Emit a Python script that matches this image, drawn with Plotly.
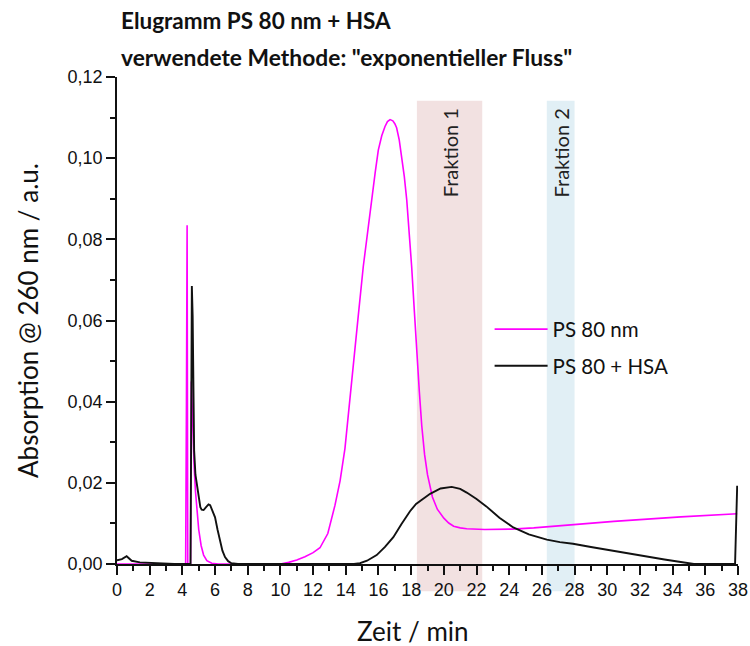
import plotly.graph_objects as go

# Elution time (min) and UV absorbance at 260 nm for the two runs
ps80_time = [0.0, 4.20, 4.25, 4.29, 4.33, 4.50, 4.55, 4.60, 4.66, 4.72, 4.80, 4.90,
             5.00, 5.15, 5.30, 5.50, 5.80, 6.20, 10.0, 10.5, 11.0, 11.5, 12.0, 12.42,
             12.9, 13.34, 13.65, 13.95, 14.20, 14.46, 14.76, 15.07, 15.33, 15.58,
             15.80, 15.99, 16.20, 16.40, 16.55, 16.71, 16.88, 17.00, 17.11, 17.27,
             17.42, 17.58, 17.73, 17.88, 18.03, 18.20, 18.34, 18.50, 18.65, 18.82,
             19.00, 19.15, 19.30, 19.60, 20.00, 20.30, 20.60, 21.00, 21.40, 22.50,
             24.20, 25.50, 27.30, 30.40, 34.50, 37.95]
ps80_abs = [0.0, 0.0, 0.040, 0.0835, 0.0, 0.0, 0.045, 0.038, 0.030, 0.024, 0.018,
            0.0125, 0.0085, 0.0045, 0.0022, 0.0008, 0.0002, 0.0, 0.0, 0.0004, 0.0010,
            0.0018, 0.0028, 0.0040, 0.0075, 0.0145, 0.0205, 0.0285, 0.0380, 0.0490,
            0.0610, 0.0733, 0.0820, 0.0897, 0.0965, 0.1020, 0.1055, 0.1078, 0.1090,
            0.1095, 0.1092, 0.1085, 0.1075, 0.1045, 0.1004, 0.0955, 0.0897, 0.0820,
            0.0733, 0.0620, 0.0520, 0.0425, 0.0340, 0.0270, 0.0220, 0.0188, 0.0165,
            0.0135, 0.0113, 0.0101, 0.0093, 0.0089, 0.0087, 0.0085, 0.0086, 0.0089,
            0.0095, 0.0105, 0.0116, 0.0124]

hsa_time = [0.0, 0.30, 0.59, 0.75, 0.90, 1.40, 2.50, 3.50, 4.50, 4.58, 4.63, 4.67,
            4.72, 4.80, 4.87, 5.00, 5.10, 5.18, 5.30, 5.45, 5.60, 5.70, 5.85, 6.00,
            6.15, 6.30, 6.45, 6.61, 6.80, 7.00, 7.40, 14.50, 14.87, 15.30, 15.89,
            16.40, 16.91, 17.40, 17.93, 18.30, 18.70, 19.16, 19.80, 20.48, 21.00,
            21.40, 22.00, 22.60, 23.40, 24.25, 25.20, 26.30, 27.10, 27.90, 29.00,
            30.40, 31.40, 32.40, 33.50, 34.50, 35.30, 37.82, 37.95]
hsa_abs = [0.0009, 0.0012, 0.0019, 0.0013, 0.0008, 0.0004, 0.0001, 0.0, 0.0, 0.0685,
           0.0610, 0.0400, 0.0280, 0.0220, 0.0199, 0.0165, 0.0140, 0.0134, 0.0133,
           0.0140, 0.0147, 0.0145, 0.0130, 0.0115, 0.0085, 0.0058, 0.0033, 0.0017,
           0.0007, 0.0002, 0.0, 0.0, 0.0002, 0.0008, 0.0022, 0.0042, 0.0066, 0.0098,
           0.0130, 0.0148, 0.0160, 0.0173, 0.0186, 0.0190, 0.0185, 0.0176, 0.0160,
           0.0142, 0.0114, 0.0090, 0.0073, 0.0060, 0.0054, 0.0050, 0.0042, 0.0032,
           0.0025, 0.0018, 0.0011, 0.0005, 0.0, 0.0, 0.0193]

# Collected fractions: (label, start, end, fill)
fractions = [("Fraktion 1", 18.35, 22.35, "#f2e1e1"),
             ("Fraktion 2", 26.30, 28.00, "#e1eff5")]

x_ticks = list(range(0, 39, 2))
y_ticks = [0.0, 0.02, 0.04, 0.06, 0.08, 0.10, 0.12]

label_font = "Lato"
tick_font = "Liberation Sans"

fig = go.Figure()
fig.add_trace(go.Scatter(x=ps80_time, y=ps80_abs, mode="lines", name="PS 80 nm",
                         line=dict(color="#ff00ff", width=1.6), legendgroup="a"))
fig.add_trace(go.Scatter(x=hsa_time, y=hsa_abs, mode="lines", name="PS 80 + HSA",
                         line=dict(color="#111111", width=1.9), legendgroup="b"))

shapes = []
annotations = []
for name, x0, x1, fill in fractions:
    shapes.append(dict(type="rect", xref="x", yref="paper", x0=x0, x1=x1,
                       y0=-0.056, y1=0.951, fillcolor=fill, line=dict(width=0),
                       layer="below"))
    annotations.append(dict(x=(x0 + x1) / 2, y=0.94, xref="x", yref="paper",
                            text=name, textangle=-90, showarrow=False,
                            xanchor="center", yanchor="top",
                            font=dict(family=label_font, size=20, color="#222")))

annotations += [
    dict(x=2 / 621, y=1 + 57 / 487.5, xref="paper", yref="paper", xanchor="left",
         yanchor="middle", showarrow=False, text="<b>Elugramm PS 80 nm + HSA</b>",
         font=dict(family=label_font, size=22.5, color="#111")),
    dict(x=2 / 621, y=1 + 20 / 487.5, xref="paper", yref="paper", xanchor="left",
         yanchor="middle", showarrow=False,
         text='<b>verwendete Methode: "exponentieller Fluss"</b>',
         font=dict(family=label_font, size=22.8, color="#111")),
    # x-axis title
    dict(x=(413 - 117) / 621, y=(564.5 - 632) / 487.5, xref="paper", yref="paper",
         xanchor="center", yanchor="middle", showarrow=False, text="Zeit / min",
         font=dict(family=label_font, size=26, color="#111")),
]

fig.update_layout(
    width=750, height=646,
    margin=dict(l=117, r=12, t=77, b=82, autoexpand=False),
    paper_bgcolor="white", plot_bgcolor="white",
    separators=",.",
    shapes=shapes, annotations=annotations,
    showlegend=True,
    legend=dict(x=0.6, y=0.444, xanchor="left", yanchor="middle",
                bgcolor="rgba(0,0,0,0)", font=dict(family=label_font, size=20.5, color="#111"),
                tracegroupgap=7, itemwidth=53),
    xaxis=dict(range=[0, 38], tickvals=x_ticks, ticks="outside", ticklen=9,
               tickwidth=1.5, tickcolor="#111", showline=True, linecolor="#111",
               linewidth=1.5, showgrid=False, zeroline=False,
               tickfont=dict(family=tick_font, size=18, color="#111"),
               minor=dict(dtick=1, ticks="outside", ticklen=5, tickwidth=1.5,
                          tickcolor="#111", showgrid=False)),
    yaxis=dict(range=[0, 0.12], tickvals=y_ticks, tickformat=".2f", ticks="outside",
               ticklen=9, tickwidth=1.5, tickcolor="#111", showline=True,
               linecolor="#111", linewidth=1.5, showgrid=False, zeroline=False,
               tickfont=dict(family=tick_font, size=18, color="#111"),
               minor=dict(dtick=0.01, ticks="outside", ticklen=5, tickwidth=1.5,
                          tickcolor="#111", showgrid=False),
               title=dict(text="Absorption @ 260 nm / a.u.", standoff=22,
                          font=dict(family=label_font, size=26, color="#111"))),
)

fig.write_html("out.html")
